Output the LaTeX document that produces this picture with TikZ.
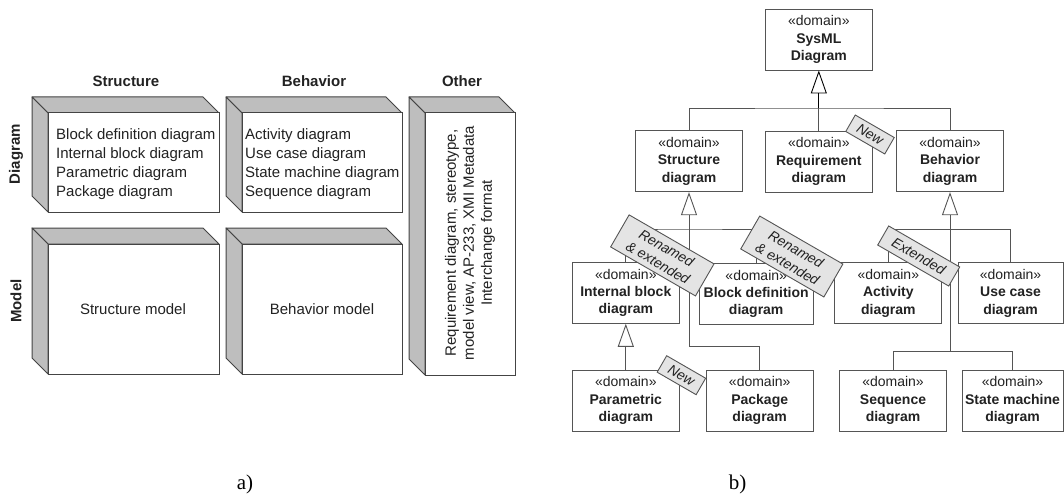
\documentclass[tikz,border=0pt]{standalone}
\usepackage{fontspec}
\setmainfont{Liberation Sans}
\newfontfamily\captionserif{Liberation Serif}
\usetikzlibrary{arrows.meta}

\definecolor{cubeside}{HTML}{BEBEBE}
\definecolor{inkline}{HTML}{444444}
\definecolor{inktext}{HTML}{222222}
\definecolor{tagfill}{HTML}{E4E4E4}
\definecolor{umlline}{HTML}{555555}

% 3-D block: front face (#1,#2)-(#3,#4), shaded top and left faces 16 units deep
\newcommand{\cubeblock}[4]{%
  \filldraw[cubeface] ({#1-16},{#2-16}) -- ({#3-16},{#2-16}) -- (#3,#2) -- (#1,#2) -- cycle;
  \filldraw[cubeface] ({#1-16},{#2-16}) -- (#1,#2) -- (#1,#4) -- ({#1-16},{#4-16}) -- cycle;
  \draw[cubeedge, fill=white] (#1,#2) rectangle (#3,#4);
}

\tikzset{
  cubeface/.style={fill=cubeside, draw=inkline, line width=1pt, line join=round},
  cubeedge/.style={draw=inkline, line width=1pt},
  header/.style={font=\fontsize{15}{18}\selectfont\bfseries, text=inktext, inner sep=0},
  celltext/.style={font=\fontsize{15}{18.8}\selectfont, text=inktext, align=left, inner sep=0},
  umlbox/.style={draw=umlline, line width=0.9pt, fill=white, align=center,
    font=\fontsize{14}{17.3}\selectfont, text=inktext,
    minimum width=107pt, minimum height=61pt, inner sep=0},
  conn/.style={draw=umlline, line width=0.9pt},
  gen/.style={conn, -{Triangle[open, length=23pt, width=16pt, fill=white]}},
  tag/.style={draw=umlline, line width=0.9pt, fill=tagfill, rotate=-30,
    font=\fontsize{14}{17}\selectfont\itshape, align=center, inner sep=0, text=inktext},
  caption/.style={font=\captionserif\fontsize{21}{24}\selectfont, text=black, inner sep=0}
}

\begin{document}
\begin{tikzpicture}[x=1pt, y=-1pt]
\useasboundingbox (0,0) rectangle (1064,500);

% ---------------- a) diagram / model matrix ----------------
\node[header] (hstr) at (126,81) {Structure};
\node[header] (hbeh) at (314,81) {Behavior};
\node[header] (hoth) at (462,81) {Other};
\node[header, rotate=90] (rdia) at (16,154) {Diagram};
\node[header, rotate=90] (rmod) at (16,301) {Model};

\cubeblock{48}{113}{219}{212}
\cubeblock{242}{113}{402}{212}
\cubeblock{48}{244}{219}{374}
\cubeblock{242}{244}{402}{374}
\cubeblock{425}{113}{515}{375}

\node[celltext, anchor=west] (sdlist) at (56,164)
  {Block definition diagram\\Internal block diagram\\Parametric diagram\\Package diagram};
\node[celltext, anchor=west] (bdlist) at (245,164)
  {Activity diagram\\Use case diagram\\State machine diagram\\Sequence diagram};
\node[celltext] (smod) at (133,309) {Structure model};
\node[celltext] (bmod) at (322,309) {Behavior model};
\node[celltext, align=center, rotate=90, font=\fontsize{15}{18}\selectfont] (other) at (470,243)
  {Requirement diagram, stereotype,\\model view, AP-233, XMI Metadata\\Interchange format};

\node[caption] (capa) at (245,484) {a)};

% ---------------- b) SysML diagram taxonomy ----------------
\node[umlbox] (sys) at (818.8,39.5) {«domain»\\\textbf{SysML}\\\textbf{Diagram}};
\node[umlbox] (str) at (689,161.2) {«domain»\\\textbf{Structure}\\\textbf{diagram}};
\node[umlbox] (req) at (818.8,161.5) {«domain»\\\textbf{Requirement}\\\textbf{diagram}};
\node[umlbox] (beh) at (950,161.2) {«domain»\\\textbf{Behavior}\\\textbf{diagram}};

\node[umlbox] (ibd) at (625.8,292.8) {«domain»\\\textbf{Internal block}\\\textbf{diagram}};
\node[umlbox, minimum width=114pt] (bdd) at (756.2,293.8) {«domain»\\\textbf{Block definition}\\\textbf{diagram}};
\node[umlbox] (act) at (888.3,293.3) {«domain»\\\textbf{Activity}\\\textbf{diagram}};
\node[umlbox, minimum width=105pt] (uc) at (1010.5,293.3) {«domain»\\\textbf{Use case}\\\textbf{diagram}};

\node[umlbox] (par) at (625.8,400.5) {«domain»\\\textbf{Parametric}\\\textbf{diagram}};
\node[umlbox] (pkg) at (759.7,400.7) {«domain»\\\textbf{Package}\\\textbf{diagram}};
\node[umlbox] (seq) at (893,400.5) {«domain»\\\textbf{Sequence}\\\textbf{diagram}};
\node[umlbox, minimum width=101pt] (stm) at (1012.5,400.5) {«domain»\\\textbf{State machine}\\\textbf{diagram}};

% junction points of the generalization trees
\coordinate (topbus) at (818.8,108);
\coordinate (strbus) at (689,229);
\coordinate (strbend) at (689,346.7);
\coordinate (behbus) at (950,229.3);
\coordinate (behbend) at (950,351);

% generalization connectors
\draw[conn] (str.north) |- (topbus) -| (beh.north);
\draw[conn] (req.north) -- (topbus);
\draw[gen, draw=black] (topbus) -- (sys.south);

\draw[conn] (ibd.north) |- (strbus) -| (bdd.north);
\draw[gen] (pkg.north) |- (strbend) -- (str.south);
\draw[gen] (par.north) -- (ibd.south);

\draw[conn] (act.north) |- (behbus) -| (uc.north);
\draw[conn] (stm.north) |- (behbend);
\draw[gen] (seq.north) |- (behbend) -- (beh.south);

% change tags
\node[tag, minimum width=45pt, minimum height=19pt] (newreq) at (870,134.5) {New};
\node[tag, minimum width=98pt, minimum height=37pt] (renibd) at (662.3,255.4) {Renamed\\\& extended};
\node[tag, minimum width=96pt, minimum height=38pt] (renbdd) at (791.8,256.5) {Renamed\\\& extended};
\node[tag, minimum width=82pt, minimum height=22pt] (extact) at (918.7,256) {Extended};
\node[tag, minimum width=45pt, minimum height=19pt] (newpar) at (681.4,375.2) {New};

\node[caption] (capb) at (737.5,484) {b)};
\end{tikzpicture}
\end{document}
